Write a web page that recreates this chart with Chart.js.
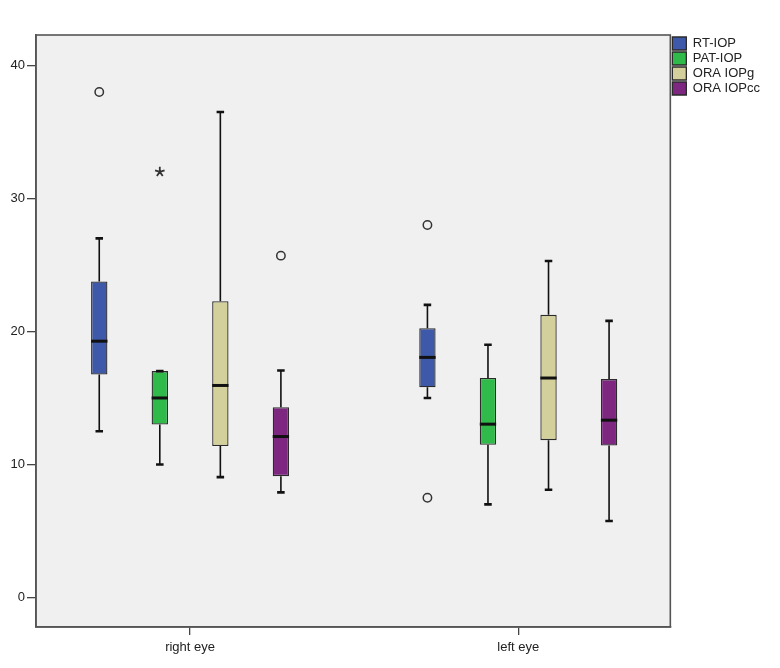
<!DOCTYPE html>
<html>
<head>
<meta charset="utf-8">
<script src="https://cdn.jsdelivr.net/npm/chart.js@4/dist/chart.umd.min.js"></script>
<style>
html,body{margin:0;padding:0;background:#fff;}
#wrap{width:780px;height:668px;}
</style>
</head>
<body>
<div id="wrap"><canvas id="c" width="780" height="668"></canvas></div>
<script>
// ---- data ----
const categories = ['right eye', 'left eye'];
const seriesNames = ['RT-IOP', 'PAT-IOP', 'ORA IOPg', 'ORA IOPcc'];
// values per series: [right eye, left eye]
const whiskerLow  = [[12.5, 15.0], [10.0, 7.0], [9.05, 8.1], [7.9, 5.75]];
const q1          = [[16.77, 15.8], [13.0, 11.48], [11.38, 11.83], [9.12, 11.43]];
const median      = [[19.27, 18.05], [15.0, 13.03], [15.94, 16.5], [12.1, 13.33]];
const q3          = [[23.76, 20.25], [17.02, 16.5], [22.28, 21.25], [14.31, 16.42]];
const whiskerHigh = [[27.0, 22.0], [17.02, 19.0], [36.5, 25.3], [17.07, 20.8]];
const outliers    = [[[38.0], [28.0, 7.5]], [[], []], [[], []], [[25.7], []]];
const extremes    = [[[], []], [[32.0], []], [[], []], [[], []]];
const yTicks = [0, 10, 20, 30, 40];

const fills   = ['#3e59a9', '#2fba49', '#d4d09b', '#7d2780'];

const FONT = '"Liberation Sans", Arial, sans-serif';

const datasets = seriesNames.map((name, s) => ({
  label: name,
  data: categories.map((c, i) => ({x: i, y: [q1[s][i], q3[s][i]]})),
  backgroundColor: fills[s],
  borderColor: '#2b2b2b',
  borderWidth: 1.3,
  borderSkipped: false,
  categoryPercentage: 0.738,
  barPercentage: 0.27
}));

const boxPlugin = {
  id: 'boxExtras',
  beforeDraw(chart) {
    const {ctx, chartArea: a} = chart;
    ctx.save();
    ctx.fillStyle = '#f0f0f0';
    ctx.fillRect(a.left, a.top, a.right - a.left, a.bottom - a.top);
    ctx.restore();
  },
  afterDatasetsDraw(chart) {
    const {ctx} = chart;
    const ys = chart.scales.y;
    ctx.save();
    ctx.strokeStyle = '#111';
    seriesNames.forEach((name, s) => {
      const meta = chart.getDatasetMeta(s);
      meta.data.forEach((bar, i) => {
        const x = bar.x, w = bar.width;
        const yHi = ys.getPixelForValue(whiskerHigh[s][i]);
        const yQ3 = ys.getPixelForValue(q3[s][i]);
        const yQ1 = ys.getPixelForValue(q1[s][i]);
        const yLo = ys.getPixelForValue(whiskerLow[s][i]);
        const yMed = ys.getPixelForValue(median[s][i]);
        ctx.lineCap = 'butt';
        ctx.lineWidth = 1.6;
        ctx.beginPath();
        if (yHi < yQ3 - 0.5) { ctx.moveTo(x, yHi); ctx.lineTo(x, yQ3); }
        if (yLo > yQ1 + 0.5) { ctx.moveTo(x, yQ1); ctx.lineTo(x, yLo); }
        ctx.stroke();
        ctx.lineWidth = 2.6;
        const cw = w * 0.46;
        ctx.beginPath();
        ctx.moveTo(x - cw / 2, yHi); ctx.lineTo(x + cw / 2, yHi);
        ctx.moveTo(x - cw / 2, yLo); ctx.lineTo(x + cw / 2, yLo);
        ctx.stroke();
        ctx.lineWidth = 3;
        ctx.beginPath();
        ctx.moveTo(x - w / 2, yMed); ctx.lineTo(x + w / 2, yMed);
        ctx.stroke();
        // outliers
        ctx.lineWidth = 1.5;
        ctx.strokeStyle = '#333';
        outliers[s][i].forEach(v => {
          const py = ys.getPixelForValue(v);
          ctx.beginPath();
          ctx.arc(x, py, 4.2, 0, Math.PI * 2);
          ctx.stroke();
        });
        ctx.lineWidth = 1.8;
        extremes[s][i].forEach(v => {
          const py = ys.getPixelForValue(v);
          ctx.beginPath();
          for (let k = 0; k < 5; k++) {
            const ang = -Math.PI / 2 + k * 2 * Math.PI / 5;
            ctx.moveTo(x, py);
            ctx.lineTo(x + 5 * Math.cos(ang), py + 5 * Math.sin(ang));
          }
          ctx.stroke();
        });
        ctx.strokeStyle = '#111';
      });
    });
    ctx.restore();
  },
  afterDraw(chart) {
    const {ctx, chartArea: a} = chart;
    ctx.save();
    ctx.strokeStyle = '#555';
    ctx.lineWidth = 1.6;
    ctx.strokeRect(a.left, a.top, a.right - a.left, a.bottom - a.top);
    ctx.restore();
  }
};

new Chart(document.getElementById('c'), {
  type: 'bar',
  data: {datasets},
  options: {
    responsive: false,
    animation: false,
    devicePixelRatio: 1,
    layout: {padding: {top: 35, right: 10, bottom: 0, left: 0}},
    plugins: {
      tooltip: {enabled: false},
      legend: {
        position: 'right',
        align: 'start',
        labels: {
          boxWidth: 14,
          boxHeight: 13,
          padding: 2,
          color: '#222',
          font: {family: FONT, size: 13}
        }
      }
    },
    scales: {
      x: {
        type: 'linear',
        offset: false,
        min: -0.4695,
        max: 1.4634,
        afterBuildTicks(scale) { scale.ticks = categories.map((c, i) => ({value: i})); },
        afterFit(scale) { scale.height = 41; },
        ticks: {
          callback: (v) => categories[v] ?? '',
          color: '#222',
          font: {family: FONT, size: 13},
          padding: 5,
          maxRotation: 0
        },
        grid: {display: true, offset: false, drawOnChartArea: false, drawTicks: true, tickLength: 8, color: '#444', lineWidth: 1.3},
        border: {display: true, color: '#555', width: 1.6}
      },
      y: {
        min: -2.22,
        max: 42.29,
        afterBuildTicks(scale) { scale.ticks = yTicks.map(v => ({value: v})); },
        afterFit(scale) { scale.width = 36; },
        ticks: {
          color: '#222',
          font: {family: FONT, size: 13},
          padding: 2
        },
        grid: {display: true, drawOnChartArea: false, drawTicks: true, tickLength: 9, color: '#444', lineWidth: 1.3},
        border: {display: true, color: '#555', width: 1.6}
      }
    }
  },
  plugins: [boxPlugin]
});
</script>
</body>
</html>
